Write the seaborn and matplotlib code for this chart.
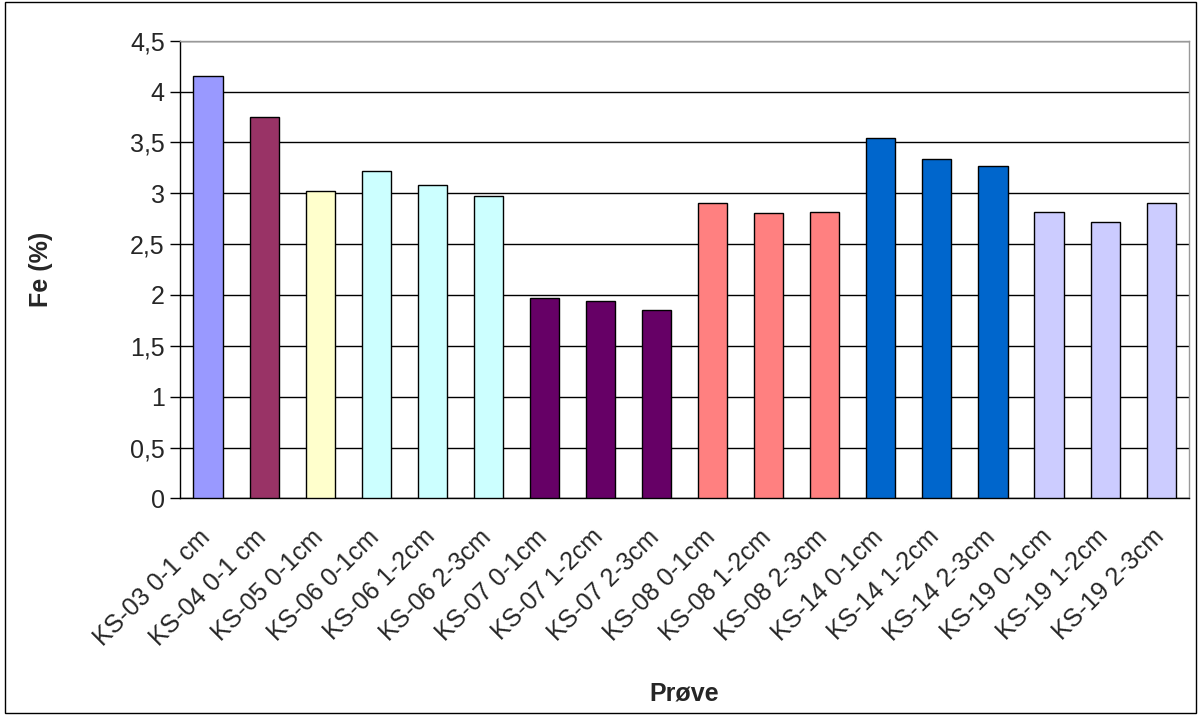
import matplotlib
matplotlib.use("Agg")
import matplotlib.pyplot as plt
import matplotlib.ticker as mtick
from matplotlib.patches import Rectangle
from matplotlib.transforms import ScaledTranslation
import seaborn as sns

samples = ['KS-03 0-1 cm', 'KS-04 0-1 cm', 'KS-05 0-1cm', 'KS-06 0-1cm', 'KS-06 1-2cm',
           'KS-06 2-3cm', 'KS-07 0-1cm', 'KS-07 1-2cm', 'KS-07 2-3cm', 'KS-08 0-1cm',
           'KS-08 1-2cm', 'KS-08 2-3cm', 'KS-14 0-1cm', 'KS-14 1-2cm', 'KS-14 2-3cm',
           'KS-19 0-1cm', 'KS-19 1-2cm', 'KS-19 2-3cm']
fe_values = [4.15, 3.75, 3.02, 3.22, 3.08, 2.97, 1.97, 1.94, 1.85, 2.90,
             2.81, 2.82, 3.54, 3.34, 3.27, 2.82, 2.72, 2.90]
bar_colors = ['#9999FF', '#993366', '#FFFFCC', '#CCFFFF', '#CCFFFF', '#CCFFFF',
              '#660066', '#660066', '#660066', '#FF8080', '#FF8080', '#FF8080',
              '#0066CC', '#0066CC', '#0066CC', '#CCCCFF', '#CCCCFF', '#CCCCFF']

sns.set_style("white")
plt.rcParams['font.family'] = ['Liberation Sans', 'DejaVu Sans']

fig = plt.figure(figsize=(12, 7.15), dpi=100)
ax = fig.add_axes([0.15, 0.303, 0.841, 0.640])

sns.barplot(x=samples, y=fe_values, hue=samples, palette=bar_colors, legend=False,
            width=0.52, edgecolor='black', linewidth=1, saturation=1, ax=ax, zorder=3)

ax.set_ylim(0, 4.5)
ax.set_xlim(-0.5, len(samples) - 0.5)
ax.yaxis.set_major_locator(mtick.MultipleLocator(0.5))
ax.yaxis.set_major_formatter(mtick.FuncFormatter(lambda v, p: f'{v:g}'.replace('.', ',')))
ax.grid(axis='y', color='black', linewidth=1, zorder=0)
ax.set_axisbelow(True)

# category labels centred, tick marks at the category boundaries
ax.set_xticks(range(len(samples)))
ax.set_xticklabels(samples, rotation=45, ha='right', rotation_mode='anchor', fontsize=18)
ax.tick_params(axis='x', which='major', length=0, pad=14)
ax.set_xticks([i - 0.5 for i in range(len(samples) + 1)], minor=True)
ax.tick_params(axis='x', which='minor', length=7, width=1, color='black', direction='out')
ax.tick_params(axis='y', length=7, width=1, color='black', direction='out',
               labelsize=18, left=True, pad=4)

# nudge rotated labels a bit down-left like the original
shift = ScaledTranslation(-7 / 72, -5 / 72, fig.dpi_scale_trans)
for lbl in ax.get_xticklabels():
    lbl.set_transform(lbl.get_transform() + shift)

for side in ['left', 'bottom']:
    ax.spines[side].set_color('black')
    ax.spines[side].set_linewidth(1)
for side in ['top', 'right']:
    ax.spines[side].set_color('#999999')
    ax.spines[side].set_linewidth(1)

ax.set_ylabel('Fe (%)', fontsize=18, fontweight='bold')
ax.yaxis.set_label_coords(-0.126, 0.5)
ax.set_xlabel('Prøve', fontsize=18, fontweight='bold')
ax.xaxis.set_label_coords(0.5, -0.40)

fig.patches.append(Rectangle((0.004, 0.003), 0.993, 0.994, transform=fig.transFigure,
                             fill=False, edgecolor='black', linewidth=1))

fig.savefig('out.png', dpi=100)
